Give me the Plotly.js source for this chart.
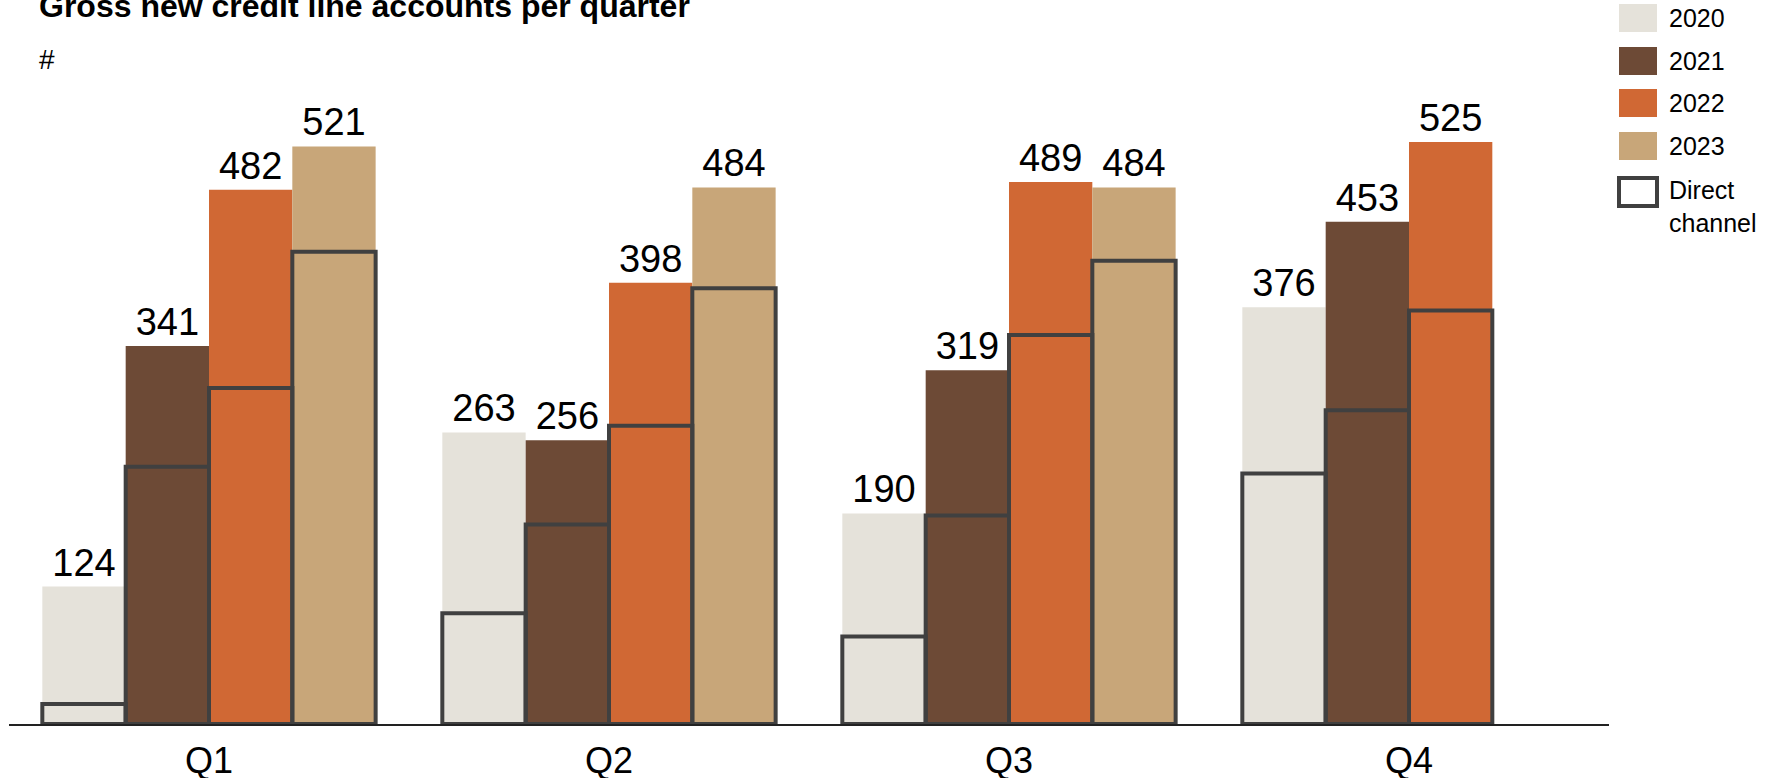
<!DOCTYPE html>
<html>
<head>
<meta charset="utf-8">
<script src="https://cdn.plot.ly/plotly-3.0.1.min.js"></script>
<style>html,body{margin:0;padding:0;background:#fff;}#chart{width:1779px;height:778px;}</style>
</head>
<body>
<div id="chart"></div>
<script>
// ---- data ----
const quarters = ['Q1', 'Q2', 'Q3', 'Q4'];
const years = ['2020', '2021', '2022', '2023'];
const total2020 = [124, 263, 190, 376];
const total2021 = [341, 256, 319, 453];
const total2022 = [482, 398, 489, 525];
const total2023 = [521, 484, 484, null];
const direct2020 = [18, 100, 79, 226];
const direct2021 = [232, 180, 188, 283];
const direct2022 = [303, 269, 351, 373];
const direct2023 = [426, 393, 418, null];
const directLabel = 'Direct<br>channel';
const titleText = 'Gross new credit line accounts per quarter';
const unitText = '#';

// ---- styling ----
const colors = ['#E5E2DA', '#6D4A36', '#D06834', '#C8A679'];
const outline = '#404040';
const FONT = 'Liberation Sans, Arial, Helvetica, sans-serif';
const totals = [total2020, total2021, total2022, total2023];
const directs = [direct2020, direct2021, direct2022, direct2023];
const bw = 0.2083;
const offsets = [-0.4167, -0.2083, 0, 0.2083];

const traces = [];
years.forEach((y, i) => {
  traces.push({
    type: 'bar', name: y, x: quarters, y: totals[i],
    width: bw, offset: offsets[i],
    marker: {color: colors[i], line: {width: 0}},
    text: totals[i].map(v => v == null ? '' : String(v)),
    textposition: 'outside', cliponaxis: false,
    textfont: {family: FONT, size: 38, color: '#000'},
    showlegend: false, hoverinfo: 'skip'
  });
});
years.forEach((y, i) => {
  traces.push({
    type: 'bar', name: 'Direct channel ' + y, x: quarters, y: directs[i],
    width: bw, offset: offsets[i],
    marker: {color: 'rgba(0,0,0,0)', line: {width: 4, color: outline}},
    showlegend: false, hoverinfo: 'skip', cliponaxis: false
  });
});

// custom legend (swatch + label), anchored to plot's top-right corner in pixels
const shapes = [];
const annotations = [];
const rowTop = [96, 53, 11, -32];   // pixel offsets above plot top
years.forEach((y, i) => {
  shapes.push({
    type: 'rect', xref: 'paper', yref: 'paper', xsizemode: 'pixel', ysizemode: 'pixel',
    xanchor: 1, yanchor: 1, x0: 10, x1: 48, y0: rowTop[i], y1: rowTop[i] - 28,
    fillcolor: colors[i], line: {width: 0}
  });
  annotations.push({
    xref: 'paper', yref: 'paper', x: 1, y: 1, xshift: 58, yshift: rowTop[i] - 14,
    xanchor: 'left', yanchor: 'middle', text: y, showarrow: false,
    font: {family: FONT, size: 25, color: '#000'}
  });
});
shapes.push({
  type: 'rect', xref: 'paper', yref: 'paper', xsizemode: 'pixel', ysizemode: 'pixel',
  xanchor: 1, yanchor: 1, x0: 10, x1: 48, y0: -78, y1: -106,
  fillcolor: 'rgba(0,0,0,0)', line: {width: 4, color: outline}
});
annotations.push({
  xref: 'paper', yref: 'paper', x: 1, y: 1, xshift: 58, yshift: -106,
  xanchor: 'left', yanchor: 'middle', align: 'left', text: directLabel, showarrow: false,
  font: {family: FONT, size: 25, color: '#000'}
});
annotations.push({
  xref: 'paper', yref: 'paper', x: 0.0175, y: 1.065, xanchor: 'left', yanchor: 'middle',
  text: unitText, showarrow: false, font: {family: FONT, size: 28, color: '#000'}
});

const layout = {
  width: 1779, height: 778,
  margin: {l: 9, r: 170, t: 100, b: 54},
  paper_bgcolor: '#fff', plot_bgcolor: '#fff',
  barmode: 'overlay',
  constraintext: 'none',
  title: {
    text: '<b>' + titleText + '</b>',
    font: {family: FONT, size: 32, color: '#000'},
    xref: 'container', yref: 'container', x: 39 / 1779, xanchor: 'left',
    y: 1 - 5.6 / 778, yanchor: 'middle'
  },
  xaxis: {
    type: 'category', range: [-0.5, 3.5], showgrid: false, zeroline: false,
    showline: true, linecolor: '#222', linewidth: 1.5, ticks: '',
    tickfont: {family: FONT, size: 36, color: '#000'}, ticklabelstandoff: 4,
    fixedrange: true
  },
  yaxis: {
    range: [0, 562.9], showgrid: false, zeroline: false, showline: false,
    showticklabels: false, ticks: '', fixedrange: true
  },
  showlegend: false,
  hovermode: false,
  shapes: shapes,
  annotations: annotations
};

Plotly.newPlot('chart', traces, layout, {displayModeBar: false, staticPlot: true});
</script>
</body>
</html>
